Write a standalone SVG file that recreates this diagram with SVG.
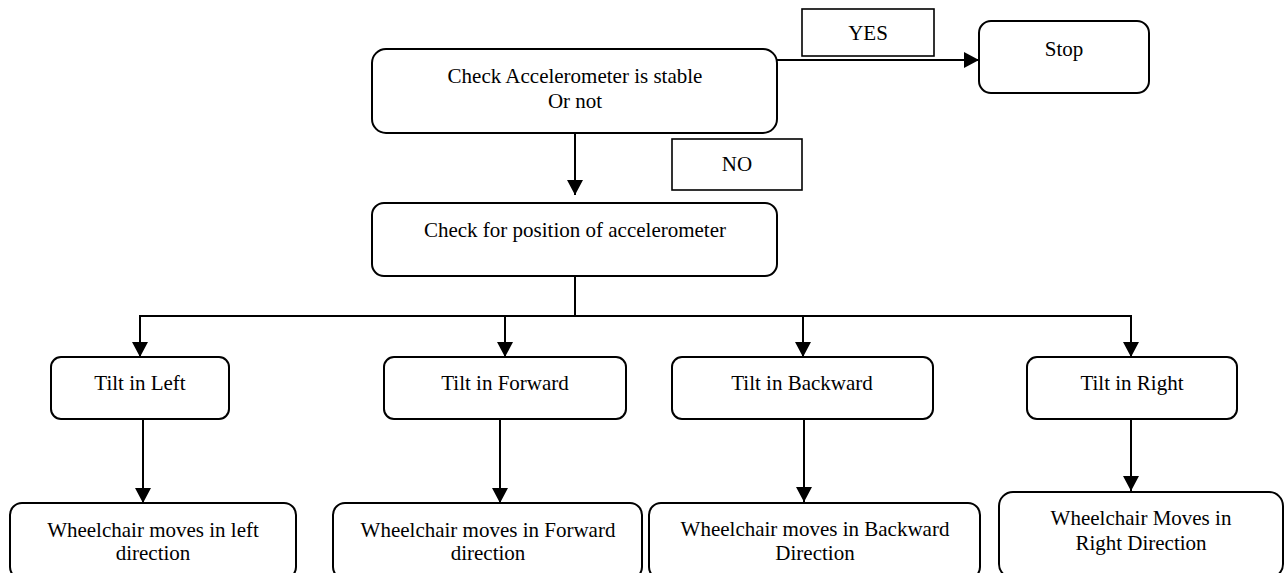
<svg xmlns="http://www.w3.org/2000/svg" width="1288" height="573" viewBox="0 0 1288 573" font-family="'Liberation Serif', 'DejaVu Serif', serif">
<style>
.n{fill:#fff;stroke:#000;stroke-width:2}
.l{fill:#fff;stroke:#000;stroke-width:1.6}
.c{fill:none;stroke:#000;stroke-width:2}
text{font-family:'Liberation Serif','DejaVu Serif',serif;font-size:21px;fill:#000;text-anchor:middle}
</style>
<defs>
<marker id="ah" markerWidth="16" markerHeight="16" refX="15" refY="8" orient="auto" markerUnits="userSpaceOnUse">
<path d="M0,0 L15,8 L0,16 Z" fill="#000"/>
</marker>
</defs>
<rect width="1288" height="573" fill="#fff"/>
<g id="connectors">
<path class="c" d="M777,60 H979" marker-end="url(#ah)"/>
<path class="c" d="M575,133 V195" marker-end="url(#ah)"/>
<path class="c" d="M575,276 V316 M139,316 H1132"/>
<path class="c" d="M140,316 V357" marker-end="url(#ah)"/>
<path class="c" d="M505,316 V357" marker-end="url(#ah)"/>
<path class="c" d="M803,316 V357" marker-end="url(#ah)"/>
<path class="c" d="M1131,316 V357" marker-end="url(#ah)"/>
<path class="c" d="M143,419 V503" marker-end="url(#ah)"/>
<path class="c" d="M500,419 V503" marker-end="url(#ah)"/>
<path class="c" d="M804,419 V502" marker-end="url(#ah)"/>
<path class="c" d="M1131,419 V491" marker-end="url(#ah)"/>
</g>
<g id="check-stable">
<rect class="n" x="372" y="49" width="405" height="84" rx="14"/>
<text x="575" y="83">Check Accelerometer is stable</text>
<text x="575" y="108">Or not</text>
</g>
<g id="label-yes">
<rect class="l" x="802" y="9" width="132" height="47"/>
<text x="868" y="40">YES</text>
</g>
<g id="stop">
<rect class="n" x="979" y="21" width="170" height="72" rx="12"/>
<text x="1064" y="56">Stop</text>
</g>
<g id="label-no">
<rect class="l" x="672" y="139" width="130" height="51"/>
<text x="737" y="171">NO</text>
</g>
<g id="check-position">
<rect class="n" x="372" y="203" width="405" height="73" rx="12"/>
<text x="575" y="237">Check for position of accelerometer</text>
</g>
<g id="tilt-left">
<rect class="n" x="51" y="357" width="178" height="62" rx="10"/>
<text x="140" y="390">Tilt in Left</text>
</g>
<g id="tilt-forward">
<rect class="n" x="384" y="357" width="242" height="62" rx="10"/>
<text x="505" y="390">Tilt in Forward</text>
</g>
<g id="tilt-backward">
<rect class="n" x="672" y="357" width="261" height="62" rx="10"/>
<text x="802" y="390">Tilt in Backward</text>
</g>
<g id="tilt-right">
<rect class="n" x="1027" y="357" width="210" height="62" rx="10"/>
<text x="1132" y="390">Tilt in Right</text>
</g>
<g id="move-left">
<rect class="n" x="10" y="503" width="286" height="76" rx="12"/>
<text x="153" y="537">Wheelchair moves in left</text>
<text x="153" y="560">direction</text>
</g>
<g id="move-forward">
<rect class="n" x="333" y="503" width="309" height="76" rx="12"/>
<text x="488" y="537">Wheelchair moves in Forward</text>
<text x="488" y="560">direction</text>
</g>
<g id="move-backward">
<rect class="n" x="649" y="503" width="331" height="76" rx="12"/>
<text x="815" y="536">Wheelchair moves in Backward</text>
<text x="815" y="560">Direction</text>
</g>
<g id="move-right">
<rect class="n" x="999" y="492" width="284" height="86" rx="14"/>
<text x="1141" y="525">Wheelchair Moves in</text>
<text x="1141" y="550">Right Direction</text>
</g>
</svg>
